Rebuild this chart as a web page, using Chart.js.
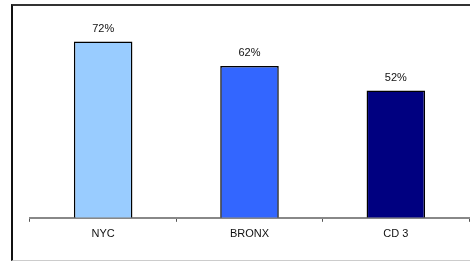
<!DOCTYPE html>
<html>
<head>
<meta charset="utf-8">
<script src="https://cdn.jsdelivr.net/npm/chart.js@4/dist/chart.umd.min.js"></script>
<style>
  html, body { margin: 0; padding: 0; background: #fff; }
  #wrap { position: relative; width: 470px; height: 261px; overflow: hidden; }
  #frame {
    position: absolute; left: 11px; top: 4px; width: 480px; height: 254px;
    border-top: 2px solid #333; border-left: 2px solid #111; border-bottom: 1px solid #ccc;
  }
  canvas { position: absolute; left: 0; top: 0; }
</style>
</head>
<body>
<div id="wrap">
  <div id="frame"></div>
  <canvas id="chart" width="470" height="261"></canvas>
</div>
<script>
// dữ liệu
const categories = ["NYC", "BRONX", "CD 3"];
const values = [72, 62, 52];
const barColors = ["#99CCFF", "#3366FF", "#000080"];

// vẽ nhãn % phía trên mỗi cột
const valueLabels = {
    id: "valueLabels",
    afterDatasetsDraw(chart) {
        const ctx = chart.ctx;
        const meta = chart.getDatasetMeta(0);
        ctx.save();
        ctx.font = "11px 'Liberation Sans', Arial, sans-serif";
        ctx.fillStyle = "#111";
        ctx.textAlign = "center";
        ctx.textBaseline = "middle";
        meta.data.forEach((bar, i) => {
            ctx.fillText(values[i] + "%", bar.x, bar.y - 13);
        });
        ctx.restore();
    }
};

document.addEventListener("DOMContentLoaded", () => {
    new Chart(document.getElementById("chart"), {
        type: "bar",
        data: {
            labels: categories,
            datasets: [{
                data: values,
                backgroundColor: barColors,
                borderColor: "#000",
                borderWidth: 1.5,
                borderSkipped: "bottom",
                categoryPercentage: 0.8,
                barPercentage: 0.5
            }]
        },
        options: {
            responsive: false,
            animation: false,
            layout: { padding: { left: 30, right: 1, top: 22, bottom: 14 } },
            plugins: { legend: { display: false }, tooltip: { enabled: false } },
            scales: {
                y: { display: false, min: 0, max: 80 },
                x: {
                    grid: {
                        offset: true,
                        drawOnChartArea: false,
                        drawTicks: true,
                        tickLength: 4,
                        color: "#555",
                        lineWidth: 1
                    },
                    border: { color: "#888", width: 2 },
                    ticks: {
                        color: "#111",
                        padding: 6,
                        font: { family: "'Liberation Sans', Arial, sans-serif", size: 11 }
                    }
                }
            }
        },
        plugins: [valueLabels]
    });
});
</script>
</body>
</html>
